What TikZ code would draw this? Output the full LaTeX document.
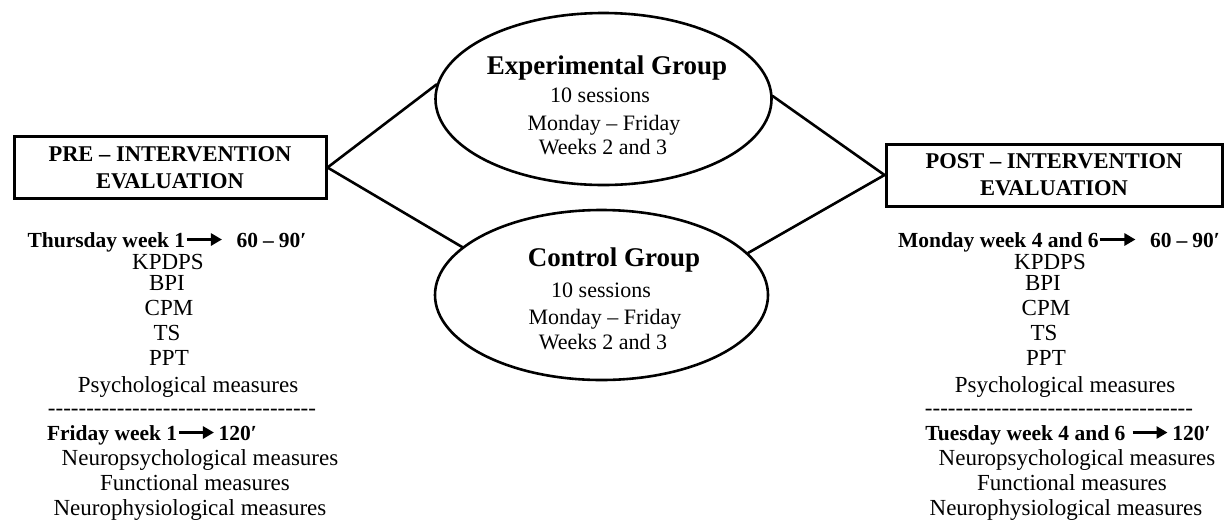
\documentclass[tikz,border=0pt]{standalone}
\usepackage{fontspec}
\setmainfont{Liberation Serif}
\usetikzlibrary{shapes.geometric,arrows.meta}
\tikzset{
  box/.style={draw, line width=3pt, rectangle, inner sep=0pt, align=center,
    font=\fontsize{22.5}{27}\selectfont\bfseries},
  grp/.style={draw, line width=2.6pt, ellipse, inner sep=0pt},
  conn/.style={line width=2.6pt, line cap=round},
  txt/.style={anchor=base, inner sep=0pt, font=\fontsize{23}{25}\selectfont},
  gtxt/.style={anchor=base, inner sep=0pt, font=\fontsize{22}{25}\selectfont},
  btxt/.style={anchor=base, inner sep=0pt, font=\fontsize{21.5}{25}\selectfont\bfseries},
  gtitle/.style={anchor=base, inner sep=0pt, font=\fontsize{27}{30}\selectfont\bfseries},
}
\newcommand{\longarr}{\tikz[x=1pt,y=1pt,baseline=0pt]{\draw[line width=3.5pt,-{Triangle[length=11pt,width=12pt]}] (0,7.5) -- (35,7.5);}}
\newcommand{\hyfive}{-\kern0pt-\kern0pt-\kern0pt-\kern0pt-\kern0pt}
\newcommand{\hyline}{\hyfive\hyfive\hyfive\hyfive\hyfive\hyfive\hyfive}
\begin{document}
\begin{tikzpicture}[x=1pt,y=-1pt]
\useasboundingbox (0,0) rectangle (1225,520);
% boxes
\node[box, minimum width=312pt, minimum height=62pt] (pre) at (170,167.5) {PRE -- INTERVENTION\\EVALUATION};
\node[box, minimum width=336pt, minimum height=62pt] (post) at (1054,175) {POST -- INTERVENTION\\EVALUATION};
% ellipses
\node[grp, minimum width=336pt, minimum height=172pt] (exp) at (603.5,99) {};
\node[grp, minimum width=333pt, minimum height=170pt] (ctl) at (601.5,295) {};
% ellipse texts
\node[gtitle] (expt) at (607,74) {Experimental Group};
\node[gtxt] (exp1) at (600,102) {10 sessions};
\node[gtxt] (exp2) at (604,130) {Monday -- Friday};
\node[gtxt] (exp3) at (603,154) {Weeks 2 and 3};
\node[gtitle] (ctlt) at (614,266) {Control Group};
\node[gtxt] (ctl1) at (601,297) {10 sessions};
\node[gtxt] (ctl2) at (605,324) {Monday -- Friday};
\node[gtxt] (ctl3) at (603,349) {Weeks 2 and 3};
% connectors
\draw[conn] (pre.east) -- (exp.175);
\draw[conn] (pre.east) -- (ctl.161);
\draw[conn] (exp.1) -- (post.west);
\draw[conn] (ctl.16) -- (post.west);
% left column
\node[btxt] (thu) at (167,247) {Thursday week 1\longarr\hspace{13pt}60\hspace{5pt}--\hspace{5pt}90′};
\node[txt] (l1) at (168,269) {KPDPS};
\node[txt] (l2) at (167,290) {BPI};
\node[txt] (l3) at (169,315) {CPM};
\node[txt] (l4) at (167,340) {TS};
\node[txt] (l5) at (169,365) {PPT};
\node[txt] (l6) at (188,392) {Psychological measures};
\node[txt] (ldash) at (182,415.5) {\hyline};
\node[btxt] (fri) at (152,440) {Friday week 1\longarr\hspace{3pt}120′};
\node[txt] (l7) at (200,465) {Neuropsychological measures};
\node[txt] (l8) at (195,490) {Functional measures};
\node[txt] (l9) at (190,515) {Neurophysiological measures};
% right column
\node[btxt] (mon) at (1059,247) {Monday week 4 and 6\longarr\hspace{13pt}60\hspace{5pt}--\hspace{5pt}90′};
\node[txt] (r1) at (1050,269) {KPDPS};
\node[txt] (r2) at (1043,290) {BPI};
\node[txt] (r3) at (1046,315) {CPM};
\node[txt] (r4) at (1044,340) {TS};
\node[txt] (r5) at (1046,365) {PPT};
\node[txt] (r6) at (1065,392) {Psychological measures};
\node[txt] (rdash) at (1059,415.5) {\hyline};
\node[btxt] (tue) at (1068,440) {Tuesday week 4 and 6 \longarr\hspace{3pt}120′};
\node[txt] (r7) at (1077,465) {Neuropsychological measures};
\node[txt] (r8) at (1072,490) {Functional measures};
\node[txt] (r9) at (1066,515) {Neurophysiological measures};
\end{tikzpicture}
\end{document}
